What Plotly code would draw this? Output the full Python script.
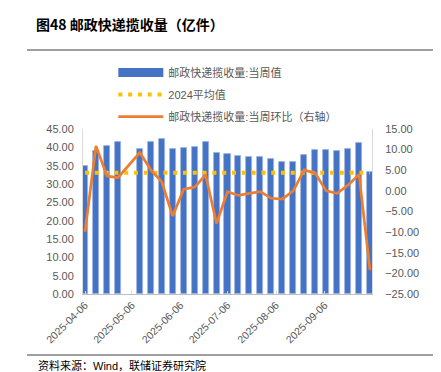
import plotly.graph_objects as go

# ---- data ----
dates = [
    "2025-04-06", "2025-04-13", "2025-04-20", "2025-04-27",
    "2025-05-11", "2025-05-18", "2025-05-25", "2025-06-01",
    "2025-06-08", "2025-06-15", "2025-06-22", "2025-06-29",
    "2025-07-06", "2025-07-13", "2025-07-20", "2025-07-27",
    "2025-08-03", "2025-08-10", "2025-08-17", "2025-08-24",
    "2025-08-31", "2025-09-07", "2025-09-14", "2025-09-21",
    "2025-09-28", "2025-10-05",
]
weekly_volume = [
    35.0, 38.9, 40.3, 41.5,
    39.5, 41.4, 42.3, 39.6,
    39.7, 40.1, 41.5, 38.4,
    38.2, 37.7, 37.5, 37.4,
    36.7, 36.0, 36.0, 37.8,
    39.3, 39.3, 39.0, 39.5,
    41.1, 33.4,
]
weekly_change = [
    -9.9, 10.9, 3.6, 3.2,
    9.3, 5.1, 2.2, -6.1,
    0.4, 0.9, 3.9, -7.9,
    -0.2, -1.1, -0.6, -0.2,
    -1.8, -2.0, 0.0, 5.1,
    4.3, 0.0, -0.6, 1.4,
    4.0, -19.2,
]
avg_2024 = 33.1

tick_vals = ["2025-04-06", "2025-05-06", "2025-06-06", "2025-07-06", "2025-08-06", "2025-09-06"]
tick_text = tick_vals
left_ticks = [0, 5, 10, 15, 20, 25, 30, 35, 40, 45]
right_ticks = [-25, -20, -15, -10, -5, 0, 5, 10, 15]

name_bar = "邮政快递揽收量:当周值"
name_avg = "2024平均值"
name_line = "邮政快递揽收量:当周环比（右轴）"
title_text = "<b>图48 邮政快递揽收量（亿件）</b>"
source_text = "资料来源：Wind，联储证券研究院"

FONT = "Liberation Sans, Arial, Noto Sans CJK SC, sans-serif"
GRAY = "#595959"
BAR_BLUE = "#4472C4"
DAY_MS = 24 * 3600 * 1000

fig = go.Figure()
fig.add_trace(go.Bar(
    x=dates, y=weekly_volume, name=name_bar,
    width=0.55 * 7 * DAY_MS,
    marker=dict(color=BAR_BLUE, line=dict(color="#9DB4E0", width=0.8)),
    showlegend=False,
))
# legend-only entry giving the wide rectangular swatch of the bar series
fig.add_trace(go.Scatter(
    x=[None], y=[None], name=name_bar, mode="lines",
    line=dict(color=BAR_BLUE, width=9), legendgroup="a", hoverinfo="skip",
))
fig.add_trace(go.Scatter(
    x=[dates[0], dates[-1]], y=[avg_2024, avg_2024], name=name_avg,
    mode="lines", line=dict(color="#FFC000", width=4, dash="4px,5.8px"),
    legendgroup="b",
))
fig.add_trace(go.Scatter(
    x=dates, y=weekly_change, name=name_line, yaxis="y2",
    mode="lines", line=dict(color="#ED7D31", width=2.7),
    legendgroup="c",
))

fig.update_layout(
    width=441, height=372,
    margin=dict(l=83, r=69, t=129, b=78),
    paper_bgcolor="white", plot_bgcolor="white",
    font=dict(family=FONT, size=11, color=GRAY),
    showlegend=True,
    legend=dict(
        x=0.105, y=1.43, xanchor="left", yanchor="top",
        font=dict(family=FONT, size=11, color=GRAY),
        traceorder="grouped", tracegroupgap=3,
        itemwidth=45, bgcolor="rgba(0,0,0,0)",
    ),
    title=dict(
        text=title_text, x=36 / 441, xanchor="left", xref="container",
        y=1 - 25 / 372, yanchor="middle", yref="container",
        font=dict(family="Noto Sans CJK SC, sans-serif", size=14, color="#000000"),
    ),
    xaxis=dict(
        type="date",
        range=["2025-04-04 17:00", "2025-10-06 07:00"],
        tickmode="array", tickvals=tick_vals, ticktext=tick_text,
        tickangle=-45, tickfont=dict(size=10.5, color=GRAY),
        showline=True, linecolor="#BFBFBF", linewidth=1,
        ticks="inside", ticklen=3, tickcolor="#D9D9D9",
        showgrid=False, zeroline=False, automargin=False,
    ),
    yaxis=dict(
        range=[0, 45], tickmode="array", tickvals=left_ticks, tickformat=".2f",
        showline=True, linecolor="#D9D9D9", linewidth=1,
        ticks="", showgrid=False, zeroline=False,
        ticklabelstandoff=6, automargin=False,
    ),
    yaxis2=dict(
        range=[-25, 15], tickmode="array", tickvals=right_ticks, tickformat=".2f",
        overlaying="y", side="right",
        showline=True, linecolor="#D9D9D9", linewidth=1,
        ticks="", showgrid=False, zeroline=False,
        ticklabelstandoff=10, automargin=False,
    ),
    bargap=0,
    shapes=[
        dict(type="line", xref="paper", yref="paper",
             x0=(27 - 83) / 289, x1=(433 - 83) / 289,
             y0=(294 - 50) / 165, y1=(294 - 50) / 165,
             line=dict(color="#808080", width=1.5)),
        dict(type="line", xref="paper", yref="paper",
             x0=(27 - 83) / 289, x1=(433 - 83) / 289,
             y0=(294 - 355) / 165, y1=(294 - 355) / 165,
             line=dict(color="#404040", width=1)),
    ],
    annotations=[
        dict(text=source_text, xref="paper", yref="paper",
             x=(36 - 83) / 289, y=(294 - 365) / 165,
             xanchor="left", yanchor="middle", showarrow=False,
             font=dict(family=FONT, size=11, color="#000000")),
    ],
)

fig.write_html(
    "out.html",
    config={"displayModeBar": False},
    post_script="document.body.style.margin='0';document.body.style.overflow='hidden';",
)
